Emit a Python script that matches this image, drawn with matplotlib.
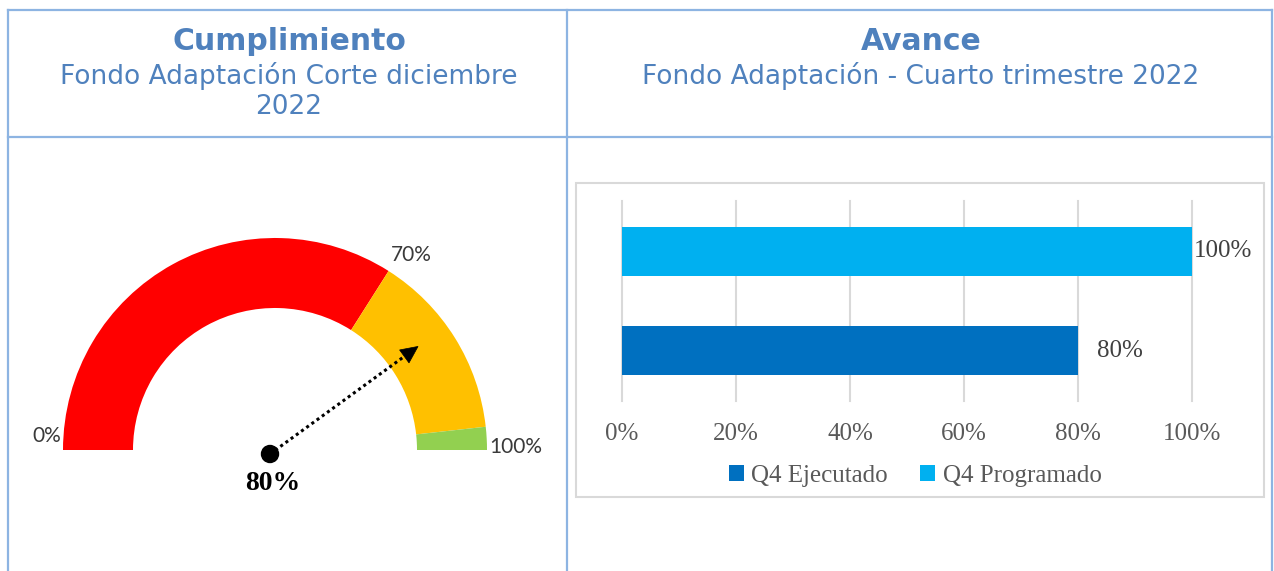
import matplotlib
matplotlib.use("Agg")
import matplotlib.pyplot as plt
from matplotlib.patches import Wedge, Rectangle, Circle, Polygon
import numpy as np

W, H = 1274, 571
DPI = 100

# ---------------- data ----------------
left_title = "Cumplimiento"
left_subtitle = "Fondo Adaptación Corte diciembre\n2022"
right_title = "Avance"
right_subtitle = "Fondo Adaptación - Cuarto trimestre 2022"

gauge_bounds = [0, 68, 96.5, 100]
gauge_colors = ["#FF0000", "#FFC000", "#92D050"]
gauge_tick_values = [0, 68, 100]
gauge_tick_labels = ["0%", "70%", "100%"]
gauge_value = 80
gauge_value_label = "80%"

bar_series = ["Q4 Ejecutado", "Q4 Programado"]
bar_values = [80, 100]
bar_colors = ["#0070C0", "#00B0F0"]
x_ticks = [0, 20, 40, 60, 80, 100]
x_tick_labels = ["0%", "20%", "40%", "60%", "80%", "100%"]

# ---------------- figure ----------------
fig = plt.figure(figsize=(W / DPI, H / DPI), dpi=DPI)
bg = fig.add_axes([0, 0, 1, 1])
bg.set_xlim(0, W)
bg.set_ylim(0, H)
bg.axis("off")


def Y(y):
    return H - y


border = "#8DB4E2"
blw = 1.6
bg.plot([8, 1272], [Y(10), Y(10)], color=border, lw=blw)
bg.plot([8, 1272], [Y(137), Y(137)], color=border, lw=blw)
bg.plot([8, 8], [Y(10), Y(571)], color=border, lw=blw)
bg.plot([567, 567], [Y(10), Y(571)], color=border, lw=blw)
bg.plot([1272, 1272], [Y(10), Y(571)], color=border, lw=blw)

title_color = "#4F81BD"
bg.text(289, Y(42), left_title, ha="center", va="center", fontsize=21.5,
        fontweight="bold", color=title_color, family="DejaVu Sans")
bg.text(289, Y(91), left_subtitle, ha="center", va="center", fontsize=19,
        color=title_color, family="DejaVu Sans", linespacing=1.22)
bg.text(921, Y(42), right_title, ha="center", va="center", fontsize=21.5,
        fontweight="bold", color=title_color, family="DejaVu Sans")
bg.text(921, Y(76), right_subtitle, ha="center", va="center", fontsize=19,
        color=title_color, family="DejaVu Sans")

# ---------------- gauge ----------------
cx, cy = 275, Y(450)
r_out, r_in = 212, 142


def ang(v):
    return 180 - v / 100 * 180


for i, col in enumerate(gauge_colors):
    bg.add_patch(Wedge((cx, cy), r_out, ang(gauge_bounds[i + 1]), ang(gauge_bounds[i]),
                       width=r_out - r_in, facecolor=col, edgecolor="none"))

lab_col = "#3A3A3A"
for v, lab in zip(gauge_tick_values, gauge_tick_labels):
    a = np.deg2rad(ang(v))
    px, py = cx + r_out * np.cos(a), cy + r_out * np.sin(a)
    if v == 0:
        bg.text(px - 2, py + 4, lab, ha="right", va="bottom", fontsize=15,
                color=lab_col, family="Lato")
    elif v == 100:
        bg.text(px + 2, py + 3, lab, ha="left", va="center", fontsize=15,
                color=lab_col, family="Lato")
    else:
        bg.text(px + 2, py + 6, lab, ha="left", va="bottom", fontsize=15,
                color=lab_col, family="Lato")

# needle
ox, oy = 270, Y(454)
needle_len = 183
a = np.deg2rad(ang(gauge_value))
d = np.array([np.cos(a), np.sin(a)])
n = np.array([-d[1], d[0]])
tip = np.array([ox, oy]) + needle_len * d
head_len, head_half = 17, 8
base = tip - head_len * d
bg.plot([ox, base[0]], [oy, base[1]], color="black", lw=2.2,
        linestyle=(0, (1, 1.1)), zorder=4)
bg.add_patch(Polygon([tip, base + head_half * n, base - head_half * n],
                     closed=True, facecolor="black", edgecolor="black",
                     lw=0.5, zorder=4))
bg.add_patch(Circle((ox, oy), 8.5, color="black", zorder=5))
bg.text(273, Y(483), gauge_value_label, ha="center", va="center", fontsize=20,
        fontweight="bold", color="black", family="Liberation Serif")

# ---------------- bar chart ----------------
bg.add_patch(Rectangle((576, Y(497)), 688, 314, fill=False,
                       edgecolor="#D9D9D9", lw=1.5))

ax = fig.add_axes([622 / W, (H - 401) / H, 570 / W, 200 / H])
ypos = np.arange(len(bar_series))
containers = []
for i, (name, val, col) in enumerate(zip(bar_series, bar_values, bar_colors)):
    c = ax.barh([ypos[i]], [val], height=0.5, color=col, label=name, zorder=3)
    containers.append(c)

ax.set_xlim(0, 100)
ax.set_ylim(-0.51, 1.51)
ax.set_xticks(x_ticks, x_tick_labels)
ax.set_yticks([])
ax.grid(axis="x", color="#D9D9D9", lw=1.5, zorder=0)
for gl in ax.get_xgridlines():
    gl.set_clip_on(False)
ax.set_axisbelow(True)
for s in ax.spines.values():
    s.set_visible(False)
ax.tick_params(axis="x", length=0, pad=16, labelsize=18, labelcolor="#595959")
for t in ax.get_xticklabels():
    t.set_family("Liberation Serif")
ax.patch.set_alpha(0)

paddings = [14, 1.5]
for c, val, pad in zip(containers, bar_values, paddings):
    ax.bar_label(c, labels=[f"{val}%"], padding=pad, fontsize=18,
                 color="#404040", family="Liberation Serif")

leg = fig.legend(handles=containers, labels=bar_series, loc="center",
                 bbox_to_anchor=(915 / W, Y(476) / H), ncol=2, frameon=False,
                 prop={"family": "Liberation Serif", "size": 18},
                 handlelength=0.6, handleheight=0.6, handletextpad=0.3,
                 columnspacing=1.3, labelcolor="#595959")

fig.savefig("out.png", dpi=DPI)
